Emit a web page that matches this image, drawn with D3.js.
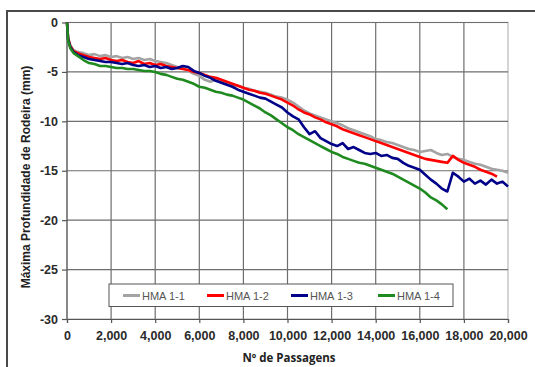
<!DOCTYPE html>
<html>
<head>
<meta charset="utf-8">
<script src="https://cdn.jsdelivr.net/npm/d3@7"></script>
<style>
  body { margin: 0; background: #fff; }
  svg { display: block; }
</style>
</head>
<body>
<div id="chart"></div>
<script>
// sample positions (number of passes)
var passes = [0, 50, 150, 300, 500].concat(d3.range(750, 20001, 250));

var hma11 = [0, -1.5, -2.3, -2.8, -3.0,
  -3.1, -3.3, -3.2, -3.4, -3.3, -3.5, -3.4, -3.6, -3.5, -3.7, -3.6, -3.8, -3.7, -3.9,
  -4.0, -4.1, -4.3, -4.5, -4.6, -4.9, -5.2, -5.4, -5.8, -6.0, -5.8, -6.0, -6.1, -6.3,
  -6.4, -6.6, -6.7, -6.9, -7.0, -7.1, -7.3, -7.5, -7.6, -7.8, -8.1, -8.5, -8.9, -9.2,
  -9.4, -9.6, -9.8, -10.0, -10.2, -10.4, -10.7, -10.9, -11.1, -11.3, -11.5, -11.8,
  -11.9, -12.1, -12.2, -12.4, -12.6, -12.8, -12.9, -13.1, -13.0, -12.9, -13.2, -13.4,
  -13.3, -13.6, -13.8, -13.9, -14.1, -14.3, -14.4, -14.6, -14.8, -14.9, -15.0, -15.2, -15.3];

var hma12 = [0, -1.6, -2.4, -2.9, -3.1,
  -3.3, -3.5, -3.6, -3.7, -3.6, -3.8, -3.9, -3.8, -4.0, -4.1, -3.9, -4.2, -4.1, -4.3,
  -4.2, -4.4, -4.5, -4.6, -4.7, -4.8, -5.0, -5.1, -5.3, -5.5, -5.6, -5.8, -6.0, -6.2,
  -6.4, -6.6, -6.8, -6.9, -7.1, -7.2, -7.4, -7.6, -7.8, -8.1, -8.4, -8.8, -9.1, -9.3,
  -9.6, -9.8, -10.1, -10.3, -10.5, -10.8, -11.0, -11.2, -11.4, -11.6, -11.8, -12.0,
  -12.2, -12.4, -12.6, -12.8, -13.0, -13.2, -13.4, -13.6, -13.8, -13.9, -14.0, -14.1,
  -14.2, -13.5, -13.9, -14.2, -14.4, -14.6, -14.9, -15.1, -15.3, -15.6];

var hma13 = [0, -1.7, -2.5, -3.0, -3.3,
  -3.5, -3.7, -3.8, -3.9, -4.0, -4.0, -4.1, -4.2, -4.1, -4.3, -4.4, -4.3, -4.5, -4.4,
  -4.6, -4.5, -4.7, -4.6, -4.4, -4.5, -4.9, -5.1, -5.4, -5.6, -5.9, -6.1, -6.3, -6.5,
  -6.8, -7.0, -7.2, -7.4, -7.6, -7.7, -8.0, -8.3, -8.6, -9.1, -9.5, -9.8, -10.6, -11.3,
  -11.0, -11.7, -12.0, -12.3, -12.5, -12.2, -12.8, -12.6, -12.9, -13.2, -13.3, -13.2,
  -13.5, -13.4, -13.7, -13.8, -14.2, -14.5, -14.7, -14.9, -15.4, -15.9, -16.3, -16.8,
  -17.1, -15.2, -15.6, -16.1, -15.8, -16.3, -16.0, -16.4, -15.9, -16.3, -16.1, -16.6];

var hma14 = [0, -1.8, -2.6, -3.1, -3.4,
  -3.8, -4.1, -4.2, -4.4, -4.4, -4.5, -4.6, -4.6, -4.7, -4.7, -4.8, -4.9, -4.9, -5.0,
  -5.2, -5.3, -5.5, -5.7, -5.8, -6.0, -6.2, -6.5, -6.6, -6.8, -7.0, -7.1, -7.3, -7.4,
  -7.6, -7.8, -8.1, -8.4, -8.7, -9.1, -9.4, -9.8, -10.2, -10.6, -10.9, -11.3, -11.6, -11.9,
  -12.2, -12.5, -12.8, -13.1, -13.3, -13.6, -13.8, -14.0, -14.2, -14.3, -14.5, -14.7,
  -14.9, -15.1, -15.3, -15.6, -15.9, -16.2, -16.5, -16.8, -17.2, -17.7, -18.0, -18.4, -18.9];

var seriesNames = ["HMA 1-1", "HMA 1-2", "HMA 1-3", "HMA 1-4"];
var seriesColors = ["#a3a3a3", "#ff0000", "#000088", "#1f8a1f"];
var seriesValues = [hma11, hma12, hma13, hma14];

var xTicks = [0, 2000, 4000, 6000, 8000, 10000, 12000, 14000, 16000, 18000, 20000];
var yTicks = [0, -5, -10, -15, -20, -25, -30];

var W = 535, H = 367;
var margin = {top: 22.5, right: 27, bottom: 48, left: 67};
var width = 508 - margin.left,
    height = 319 - margin.top;

var svg = d3.select("#chart").append("svg")
  .attr("width", W)
  .attr("height", H);

// outer frame (top and left edges visible)
svg.append("path")
  .attr("d", "M7,367V11H535")
  .attr("fill", "none")
  .attr("stroke", "#4a4a4a")
  .attr("stroke-width", 2);

var g = svg.append("g")
  .attr("transform", "translate(" + margin.left + "," + margin.top + ")");

var x = d3.scaleLinear().domain([0, 20000]).range([0, width]);
var y = d3.scaleLinear().domain([-30, 0]).range([height, 0]);

// plot area border
g.append("rect")
  .attr("width", width)
  .attr("height", height)
  .attr("fill", "#fff")
  .attr("stroke", "#b8b8b8")
  .attr("stroke-width", 1.2);

// grid
g.selectAll(".vgrid").data(xTicks.slice(1, -1)).enter().append("line")
  .attr("x1", function(d) { return x(d); })
  .attr("x2", function(d) { return x(d); })
  .attr("y1", 0).attr("y2", height)
  .attr("stroke", "#6e6e6e").attr("stroke-width", 1.2);

g.selectAll(".hgrid").data(yTicks.slice(0, -1)).enter().append("line")
  .attr("x1", 0).attr("x2", width)
  .attr("y1", function(d) { return y(d); })
  .attr("y2", function(d) { return y(d); })
  .attr("stroke", "#6e6e6e").attr("stroke-width", 1.2);

// axes
var xAxis = g.append("g")
  .attr("transform", "translate(0," + height + ")")
  .call(d3.axisBottom(x).tickValues(xTicks).tickSize(4).tickPadding(8)
    .tickFormat(d3.format(",")));
var yAxis = g.append("g")
  .call(d3.axisLeft(y).tickValues(yTicks).tickSize(5).tickPadding(4)
    .tickFormat(function(d) { return d; }));

[xAxis, yAxis].forEach(function(a) {
  a.attr("font-family", "Arial, 'Liberation Sans', sans-serif")
   .attr("font-size", 12.5)
   .attr("font-weight", "bold");
  a.select(".domain").attr("stroke", "#555").attr("stroke-width", 1.2);
  a.selectAll(".tick line").attr("stroke", "#555").attr("stroke-width", 1.2);
  a.selectAll(".tick text").attr("fill", "#2a2a2a");
});
yAxis.select(".domain").remove();
yAxis.append("line").attr("x1", 0).attr("x2", 0).attr("y1", 0).attr("y2", height)
  .attr("stroke", "#555").attr("stroke-width", 1.2);

// lines
var line = d3.line()
  .x(function(d) { return x(d[0]); })
  .y(function(d) { return y(d[1]); });

seriesValues.forEach(function(vals, i) {
  var pts = vals.map(function(v, j) { return [passes[j], v]; });
  g.append("path")
    .datum(pts)
    .attr("fill", "none")
    .attr("stroke", seriesColors[i])
    .attr("stroke-width", 2.6)
    .attr("stroke-linejoin", "round")
    .attr("d", line);
});

// legend
var legend = svg.append("g").attr("transform", "translate(109,284)");
legend.append("rect")
  .attr("width", 344).attr("height", 22.5)
  .attr("fill", "#fff").attr("stroke", "#555").attr("stroke-width", 1);
var legX = [14, 98, 182, 269];
seriesNames.forEach(function(n, i) {
  legend.append("line")
    .attr("x1", legX[i]).attr("x2", legX[i] + 17)
    .attr("y1", 11.5).attr("y2", 11.5)
    .attr("stroke", seriesColors[i]).attr("stroke-width", 3);
  legend.append("text")
    .attr("x", legX[i] + 19).attr("y", 15.5)
    .attr("fill", "#555")
    .attr("font-family", "Arial, 'Liberation Sans', sans-serif")
    .attr("font-size", 11)
    .text(n);
});

// axis titles
svg.append("text")
  .attr("x", 289).attr("y", 362)
  .attr("text-anchor", "middle")
  .attr("fill", "#222")
  .attr("font-family", "'Open Sans', Lato, sans-serif")
  .attr("font-size", 11.5)
  .attr("font-weight", "bold")
  .text("Nº de Passagens");

svg.append("text")
  .attr("transform", "translate(30,177) rotate(-90)")
  .attr("text-anchor", "middle")
  .attr("fill", "#222")
  .attr("font-family", "Arial, 'Liberation Sans', sans-serif")
  .attr("font-size", 12)
  .attr("font-weight", "bold")
  .text("Máxima Profundidade de Rodeira (mm)");
</script>
</body>
</html>
